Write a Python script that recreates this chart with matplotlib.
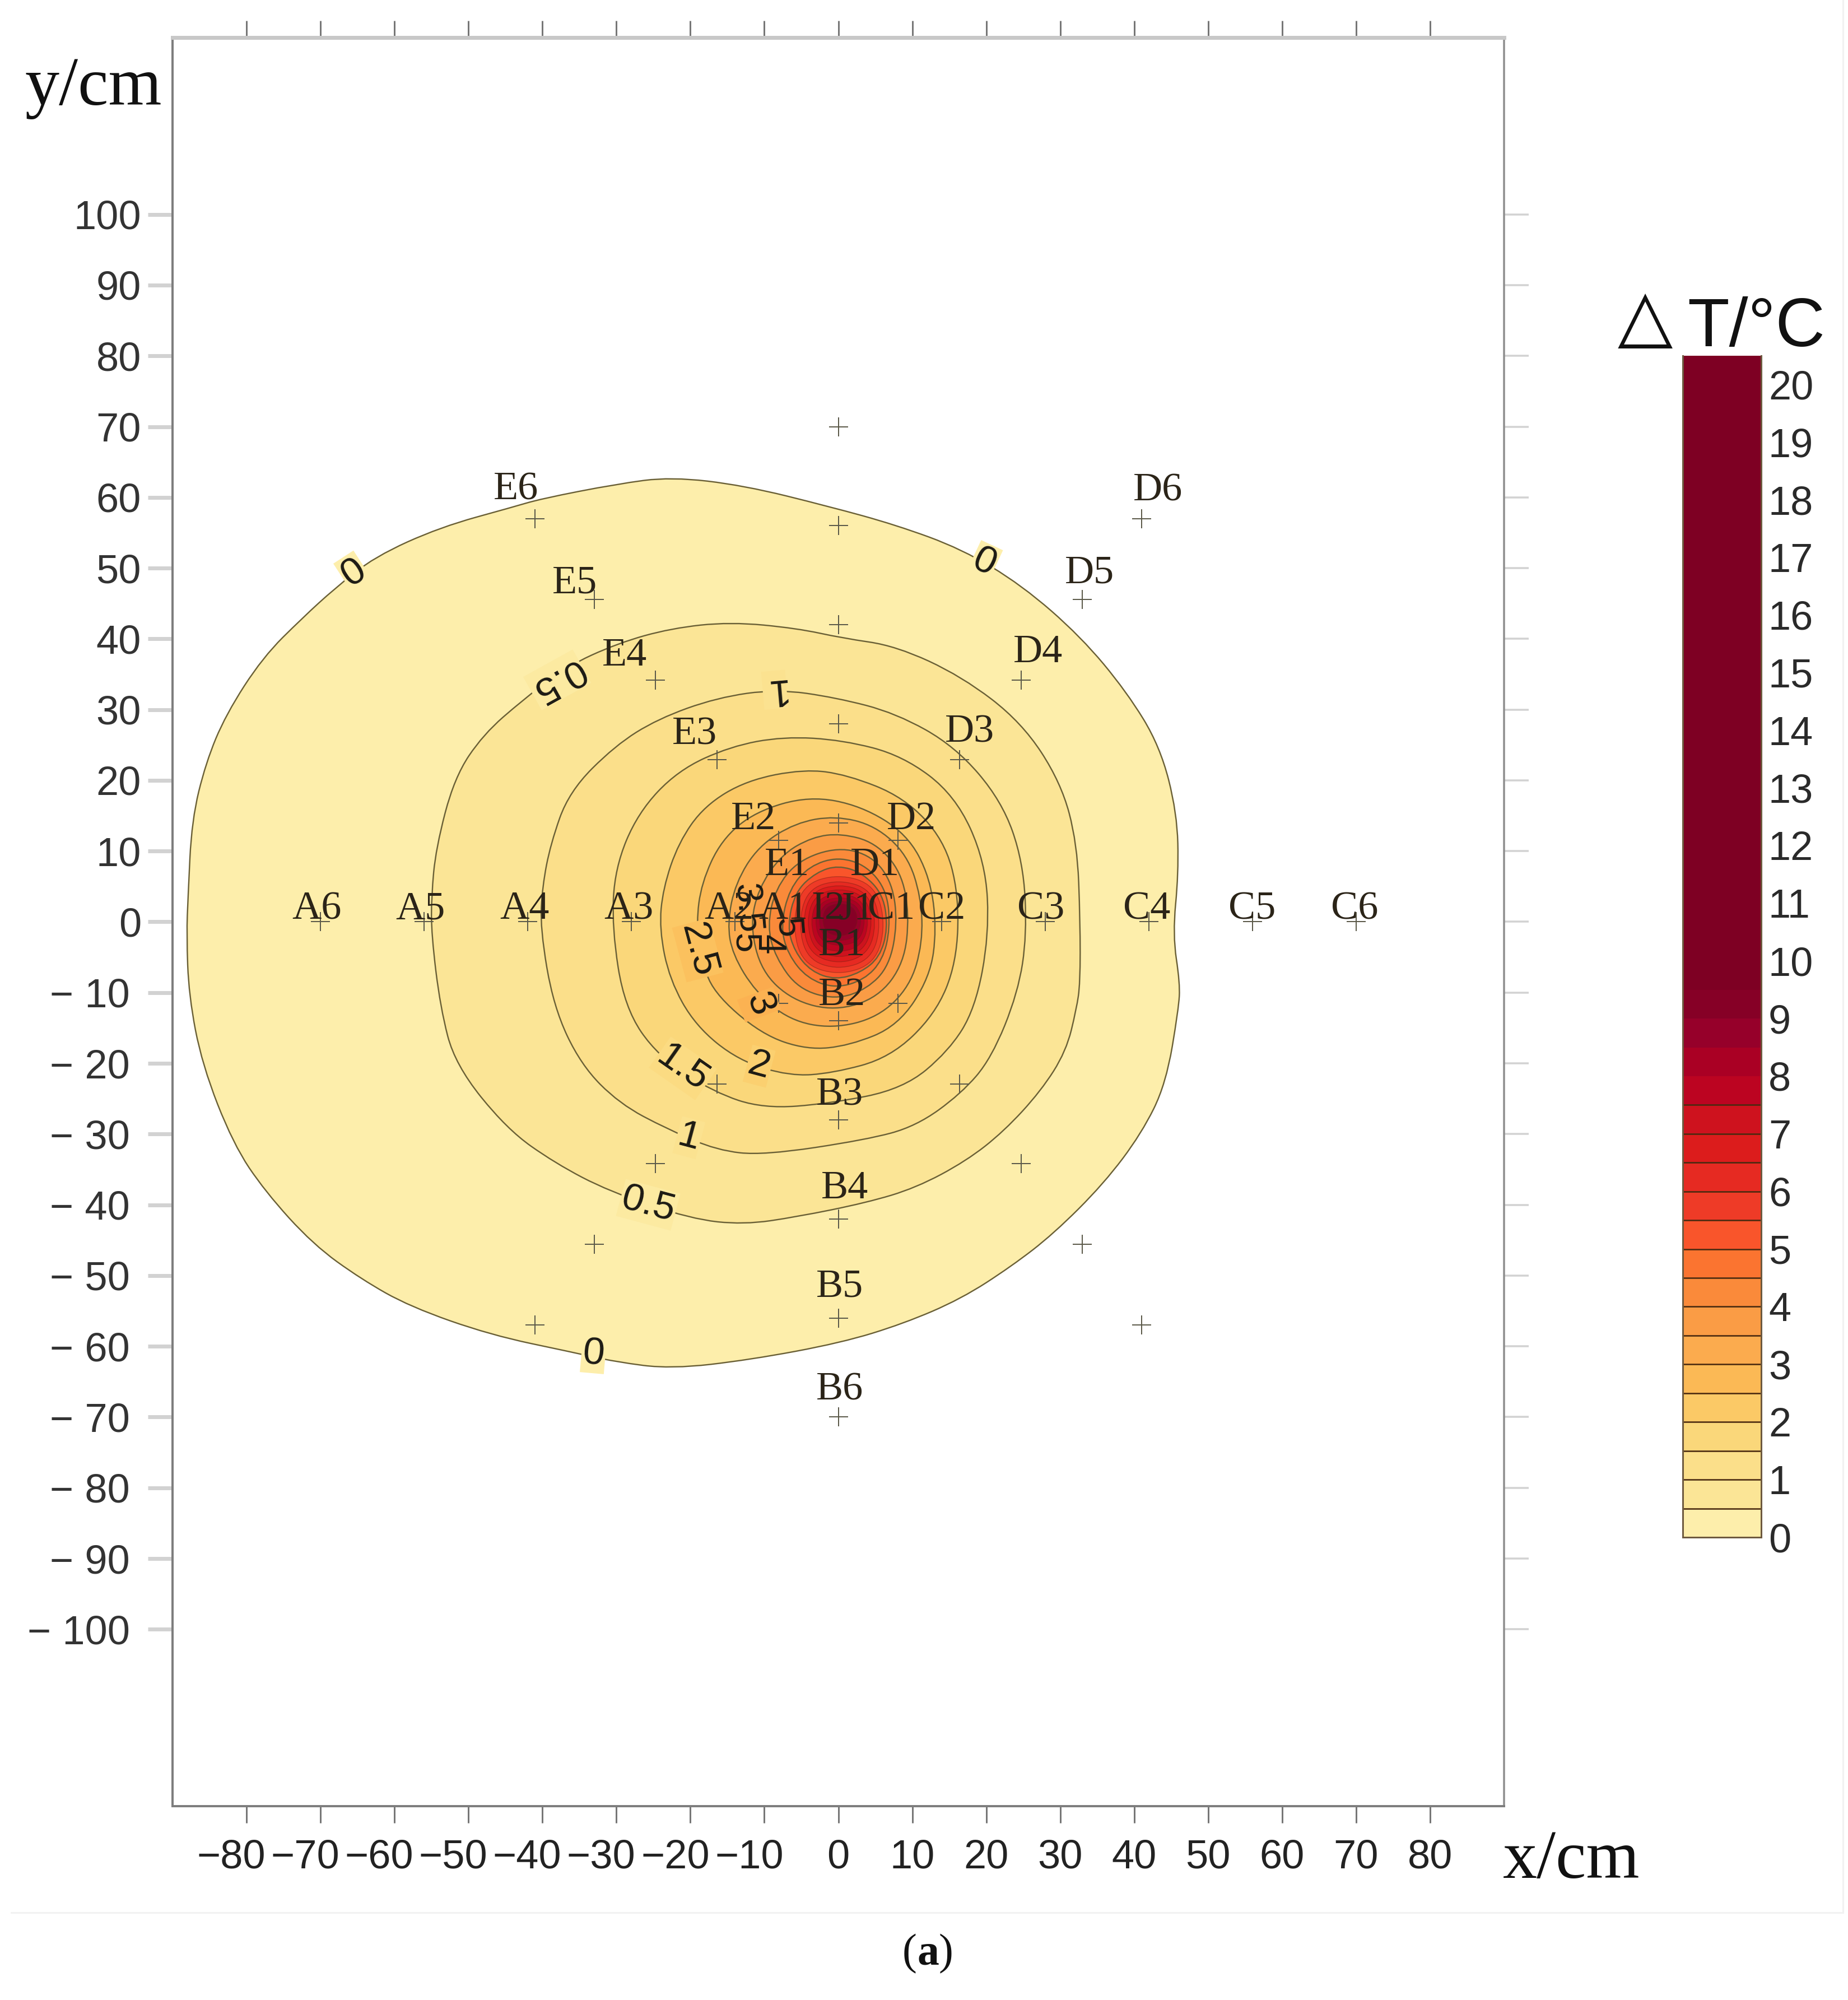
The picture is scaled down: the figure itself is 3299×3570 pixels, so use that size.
import matplotlib
matplotlib.use('Agg')
import matplotlib.pyplot as plt
import matplotlib.colors as mcolors
from matplotlib.path import Path
from matplotlib.patches import PathPatch
from matplotlib.lines import Line2D
from matplotlib.transforms import ScaledTranslation

W, H = 3299, 3570
SANS = 'Liberation Sans'
SERIF = 'Liberation Serif'

# contour outlines, (x, y) in cm
c0 = [(-88.1,-1.8),(-87.9,3.6),(-87.4,14.4),(-85.5,22.5),(-82.8,29.3),(-77.8,37.4),(-72.4,43),(-68.1,47.1),
      (-62.7,51.6),(-53.8,55.8),(-44.1,58.6),(-40.2,59.8),(-29.9,61.9),(-22.6,62.9),(-12.8,61.7),(-1.2,58.7),
      (7.8,56.1),(16.7,52.7),(24.8,47.6),(32.8,40.3),(39,32.5),(43.5,24.8),(45.8,15.4),(46,6.8),(45.2,-1.8),
      (46.2,-8.7),(46,-12.3),(44.3,-22.9),(41,-29.9),(35.9,-37),(29.1,-44.1),(23.4,-48.7),(16.6,-53.3),
      (8.8,-56.8),(0.4,-59.5),(-11.9,-61.9),(-22.6,-63.2),(-30.1,-62.2),(-36.1,-60.8),(-47,-58.4),(-57.9,-54.4),
      (-64.5,-50.5),(-71,-45.6),(-77.5,-38.1),(-81.8,-31.4),(-86,-20.2),(-87.8,-10.4)]
c05 = [(-55,-1.8),(-55,3.6),(-54.4,10.4),(-51.9,20.4),(-48,26.5),(-42.6,31.4),(-36.9,36),(-29.8,39.4),(-22.6,41.5),
       (-14.6,42.4),(-5.6,41.5),(0.6,40.1),(7.8,39),(16.7,34.7),(24.8,28.2),(30.1,19.7),(32.3,11.1),
       (32.7,0),(32.7,-8.7),(32.2,-12.3),(30.8,-18.3),(27.4,-23.9),(22.4,-29.6),(17.3,-33.8),(10.5,-37.6),
       (3.8,-39.7),(-5.6,-41.7),(-12.8,-42.8),(-19.9,-42),(-31,-38.1),(-38.3,-34.1),(-44.8,-29.3),(-51.8,-20.2),
       (-53.8,-12.1)]
c1 = [(-40.3,-0.9),(-40,5),(-38.9,11),(-36.4,18.4),(-30.2,24.9),(-24.4,28.7),(-16.4,31.7),(-8.3,32.9),(-0.3,31.7),
      (7.8,29.5),(15.8,24.8),(22.1,17.1),(25,8.5),(25.5,-1.8),(24.3,-10),(20.7,-19.3),(16.6,-24.3),(10.5,-28.9),
      (3.8,-30.8),(-10.1,-33),(-16.4,-32.3),(-23.1,-29.3),(-29.6,-25.7),(-34.8,-20.2),(-38.5,-12)]
c15 = [(-30.6,-0.9),(-30.2,7.6),(-27.1,15.4),(-21.7,21.4),(-14.6,24.8),(-7.4,26.2),(0.6,25.7),(8.7,23.5),
       (15.8,17.9),(19.9,8.5),(20.4,-1.8),(18.5,-12.3),(14.9,-18.3),(8.8,-23.6),(-1.2,-25.7),(-10.1,-26.4),
       (-16.8,-24.1),(-24.4,-19),(-28.9,-12.1)]
c2 = [(-24.2,-1),(-23.7,4.7),(-21.6,11.2),(-18.1,16.4),(-12.4,20),(-4.6,21.6),(1.2,20.8),(8.9,17.6),
      (14.3,11.6),(16.3,3.9),(16,-5.8),(13.1,-13.1),(7,-19.2),(-0.8,-21.4),(-6.6,-21.8),(-13.5,-19.6),
      (-19.3,-14.7),(-22.8,-8.2)]
c25 = [(-19.2,-0.2),(-18.5,5.5),(-15.8,11.6),(-11.2,15.6),(-3.9,17.8),(3.1,16.4),(9.3,12.4),(12.4,6.3),
       (13.3,-1),(12.4,-7.8),(8.1,-14.7),(1.5,-17.5),(-4.2,-18.1),(-10.4,-15.9),(-17,-9.9),(-18.5,-5)]
c3 = [(-15,-0.2),(-13.9,5.5),(-10.8,10.7),(-5.8,14),(-0.4,15),(5,13.6),(9.3,9.5),(11.2,3.5),(11.4,-3),
      (9.7,-9.1),(5.4,-13.5),(-0.8,-15.1),(-6.6,-13.9),(-11.2,-9.9),(-14.3,-4.6)]
c35 = [(-11.9,-0.6),(-10.8,4.7),(-7.7,9.5),(-3.5,12),(0.4,12.5),(5,11.2),(8.5,7.1),(9.6,1),(8.9,-5.8),
       (5.4,-10.7),(-0.4,-12.6),(-6.2,-11.1),(-10.4,-7)]
c4 = [(-9.6,-0.6),(-8.5,4.7),(-5.4,8.7),(0,10.6),(4.6,9.3),(7.3,5.5),(8,-0.2),(6.9,-6.2),(3.9,-9.5),
      (-0.4,-11),(-5.4,-9.5),(-8.5,-5)]
c45 = [(-7.8,-0.6),(-6.6,4.7),(-3.9,7.9),(0,9.2),(3.9,7.9),(6.6,4.3),(7,-1),(6,-5.4),(3.5,-8.2),
       (-0.4,-9.4),(-4.2,-8),(-6.8,-4.6)]
c5 = [(-6.9,-0.6),(-5.8,4.3),(-3,7),(0,8),(3.3,6.9),(6.1,3.8),(6.7,-1),(5.6,-5),(3,-7.2),(-0.4,-8.2),
      (-3.7,-7),(-5.9,-4.2)]
c55 = [(-6.2,-0.4),(-4.9,5.2),(0,6.8),(5.0,5.2),(6.4,-0.4),(5.0,-5.9),(0,-7.6),(-4.9,-5.9)]
c6 = [(-5.4,-0.4),(-4.2,4.6),(0,6),(4.5,4.6),(5.8,-0.4),(4.5,-5.3),(0,-6.8),(-4.2,-5.3)]
c65 = [(-4.9,-0.3),(-3.8,4.2),(0.1,5.4),(4,4.2),(5.2,-0.3),(4,-4.6),(0.1,-6),(-3.8,-4.6)]
c7 = [(-4.3,0),(-3.3,3.7),(0.1,4.8),(3.6,3.7),(4.7,0),(3.6,-4),(0.1,-5.2),(-3.3,-4)]
c75 = [(-3.8,0),(-2.9,3.2),(0.1,4.2),(3.2,3.2),(4.2,0),(3.2,-3.4),(0.1,-4.4),(-2.9,-3.4)]
c8 = [(-3.2,0.2),(-2.5,2.8),(0.2,3.6),(2.9,2.8),(3.7,0.2),(2.9,-2.7),(0.2,-3.5),(-2.5,-2.7)]
c85 = [(-2.7,0.3),(-2.1,2.4),(0.2,3.1),(2.5,2.4),(3.2,0.3),(2.5,-2.1),(0.2,-2.8),(-2.1,-2.1)]
c9 = [(-2.2,0.4),(-1.7,2.1),(0.2,2.7),(2.1,2.1),(2.7,0.4),(2.1,-1.5),(0.2,-2.1),(-1.7,-1.5)]

outlines = [c0, c05, c1, c15, c2, c25, c3, c35, c4, c45, c5, c55, c6, c65, c7, c75, c8, c85, c9]

# one colour per 0.5 band, 0 to 9, then the rest of the scale
band_colors = ['#FDEEAB', '#FBE596', '#FBDF8A', '#FAD77A', '#FBC966', '#FBB955', '#FBAB4E', '#FA9C45',
               '#FA8A3A', '#FB7430', '#F9552B', '#EE3B27', '#E62A22', '#DC1C1C', '#CE121E', '#BC0421',
               '#AA0024', '#96002A', '#860026', '#7E0023']
band_edges = [0, 0.5, 1, 1.5, 2, 2.5, 3, 3.5, 4, 4.5, 5, 5.5, 6, 6.5, 7, 7.5, 8, 8.5, 9, 9.5, 20.5]

# measuring points
point_x = [-70, -56, -42, -28, -14, 14, 28, 42, 56, 70,
           0, 0, 0, 0, 0, 0, 0, 0, 0, 0,
           41, 33, 24.7, 16.4, 8.1, -41, -33, -24.7, -16.4, -8.1,
           41, 33, 24.7, 16.4, 8.1, -41, -33, -24.7, -16.4, -8.1]
point_y = [0, 0, 0, 0, 0, 0, 0, 0, 0, 0,
           70, 56, 42, 28, 14, -14, -28, -42, -56, -70,
           57, 45.6, 34.2, 22.9, 11.5, 57, 45.6, 34.2, 22.9, 11.5,
           -57, -45.6, -34.2, -22.9, -11.5, -57, -45.6, -34.2, -22.9, -11.5]

# point names, centre of the text in cm
names = ['E6', 'E5', 'E4', 'E3', 'E2', 'E1', 'D1', 'D2', 'D3', 'D4', 'D5', 'D6',
         'A6', 'A5', 'A4', 'A3', 'A2', 'A1', 'I2', 'J1', 'C1', 'C2', 'C3', 'C4', 'C5', 'C6',
         'B1', 'B2', 'B3', 'B4', 'B5', 'B6']
name_x = [-43.6, -35.6, -28.9, -19.4, -11.5, -6.9, 5, 9.9, 17.8, 27, 34, 43.2,
          -70.5, -56.5, -42.4, -28.3, -14.8, -7.4, -1.4, 2.4, 7.2, 14, 27.4, 41.7, 55.9, 69.8,
          0.5, 0.5, 0.2, 0.9, 0.2, 0.2]
name_y = [61.1, 47.9, 37.6, 26.5, 14.5, 8, 8, 14.5, 26.8, 38.1, 49.3, 60.9,
          1.8, 1.8, 1.8, 1.8, 1.8, 1.8, 1.8, 1.8, 1.8, 1.8, 1.8, 1.8, 1.8, 1.8,
          -3.3, -10.4, -24.5, -37.7, -51.6, -66.2]

# contour labels, the ones with a background break their line
label_text = ['0', '0', '0', '0.5', '1', '0.5', '1', '1.5', '2', '3', '2.5']
label_x = [-65.5, 19.7, -33.1, -38, -8.6, -25.7, -20.2, -21, -10.7, -10.7, -19]
label_y = [49.3, 50.8, -61.1, 34.2, 32.8, -40, -30.5, -20.7, -20.4, -11.7, -4]
label_rot = [33, -25, -5, 209, 185, -15, -15, -35, -15, -70, -75]
label_band = [0, 0, 0, 1, 2, 1, 2, 3, 4, 6, 5]

# the labels crowded at the centre, no gap around them
crowded_text = ['3.5', '5', '4', '5']
crowded_x = [-12.4, -12.7, -9.3, -6.9]
crowded_y = [1.9, -3, -3.2, -0.8]
crowded_rot = [-85, -90, -90, -85]

x_ticks = list(range(-80, 81, 10))
y_ticks = list(range(-100, 101, 10))
cbar_ticks = list(range(0, 21))


def closed_curve(pts):
    # quadratic curve through the midpoints, the read points are the controls
    n = len(pts)
    mid = lambda a, b: ((a[0] + b[0]) / 2, (a[1] + b[1]) / 2)
    verts = [mid(pts[-1], pts[0])]
    codes = [Path.MOVETO]
    for i in range(n):
        verts += [pts[i], mid(pts[i], pts[(i + 1) % n])]
        codes += [Path.CURVE3, Path.CURVE3]
    return Path(verts, codes)


def between(i):
    # background of a label lying on the line between two bands
    if i == 0:
        return band_colors[0]
    a, b = mcolors.to_rgb(band_colors[i - 1]), mcolors.to_rgb(band_colors[i])
    return tuple((p + q) / 2 for p, q in zip(a, b))


def pt(px):
    return px * 72 / 100


fig = plt.figure(figsize=(W / 100, H / 100), dpi=100, facecolor='white')
ax = fig.add_axes([308 / W, 1 - 3224 / H, (2685 - 308) / W, (3224 - 67) / H])
ax.set_xlim(-90, 90)
ax.set_ylim(-125, 125)

for i, outline in enumerate(outlines):
    edge = '#6A6036' if i < 11 else (0.45, 0.12, 0.08, 0.45)
    lw = pt(2.4) if i < 11 else pt(1.4)
    ax.add_patch(PathPatch(closed_curve(outline), facecolor=band_colors[i], edgecolor=edge, lw=lw, zorder=2))

ax.plot(point_x, point_y, ls='none', marker='+', ms=pt(34), mew=pt(2), color='#5C5A4A', zorder=3)

for t, x, y, r, b in zip(label_text, label_x, label_y, label_rot, label_band):
    ax.text(x, y, t, rotation=r, rotation_mode='anchor', ha='center', va='center', fontsize=50,
            family=SANS, color='#1C1A14', zorder=4,
            bbox=dict(facecolor=between(b), edgecolor='none', pad=1.5))

for t, x, y, r in zip(crowded_text, crowded_x, crowded_y, crowded_rot):
    ax.text(x, y, t, rotation=r, rotation_mode='anchor', ha='center', va='center', fontsize=46,
            family=SANS, color='#1C1A14', zorder=4)

for t, x, y in zip(names, name_x, name_y):
    ax.text(x, y, t, ha='center', va='center', fontsize=52, family=SERIF, color='#2B2418', zorder=5)

ax.set_xticks(x_ticks)
ax.set_yticks(y_ticks)
ax.set_xticklabels([str(v).replace('-', '\u2212') for v in x_ticks], family=SANS, fontsize=52, color='#222222')
ax.set_yticklabels([str(v).replace('-', '\u2212 ') for v in y_ticks], family=SANS, fontsize=52, color='#333333')
ax.tick_params(axis='x', which='major', top=True, bottom=True, direction='out', length=pt(30), width=pt(3),
               color='#777777', pad=pt(28))
ax.tick_params(axis='y', which='major', left=True, right=True, direction='out', length=pt(44), width=pt(7),
               color='#D2D2D2', pad=pt(12))
for tick in ax.yaxis.get_major_ticks():
    tick.tick2line.set_markeredgewidth(pt(3.5))
    tick.tick2line.set_color('#BBBBBB')

# negative labels sit left of their ticks in the picture
for label, v in zip(ax.get_xticklabels(), x_ticks):
    if v < 0:
        label.set_transform(label.get_transform() + ScaledTranslation(-0.27, 0, fig.dpi_scale_trans))
for label, v in zip(ax.get_yticklabels(), y_ticks):
    if v < 0:
        label.set_transform(label.get_transform() + ScaledTranslation(-0.2, 0, fig.dpi_scale_trans))

for side, color, px in [('left', '#7E7E7E', 4), ('bottom', '#7E7E7E', 4), ('right', '#8E8E8E', 3.5), ('top', '#C8C8C8', 7)]:
    ax.spines[side].set_color(color)
    ax.spines[side].set_linewidth(pt(px))

# colour scale
cax = fig.add_axes([3004 / W, 1 - 2744 / H, 140 / W, (2744 - 635) / H])
cax.bar([0] * len(band_colors), [band_edges[i + 1] - band_edges[i] for i in range(len(band_colors))], width=1,
        bottom=band_edges[:-1], color=band_colors)
cax.hlines(band_edges[1:16], -0.5, 0.5, color='#4A2A10', lw=pt(2.6))
cax.set_xlim(-0.5, 0.5)
cax.set_ylim(0, 20.5)
cax.set_xticks([])
cax.yaxis.tick_right()
cax.set_yticks(cbar_ticks)
cax.set_yticklabels([str(v) for v in cbar_ticks], family=SANS, fontsize=52, color='#2A2A2A', ha='left')
cax.tick_params(axis='y', length=0, pad=pt(13))
for s in cax.spines.values():
    s.set_color('#6E5A40')
    s.set_linewidth(pt(3))
cax.spines['top'].set_visible(False)

# titles
fig.text(44 / W, 1 - 187 / H, 'y/cm', family=SERIF, fontsize=88, color='#111111', va='baseline', ha='left')
fig.text(2683 / W, 1 - 3352 / H, 'x/cm', family=SERIF, fontsize=88, color='#111111', va='baseline', ha='left')
fig.text(2888 / W, 1 - 606 / H, '\u25b3', family='DejaVu Sans', fontsize=92, weight='bold', color='#111111', va='baseline', ha='left')
fig.text(3012 / W, 1 - 618 / H, 'T/\u00b0C', family=SANS, fontsize=88, color='#111111', va='baseline', ha='left')

fig.text(1611 / W, 1 - 3506 / H, '(', family=SERIF, fontsize=56, color='#111111', va='baseline', ha='left')
fig.text(1637 / W, 1 - 3506 / H, 'a', family=SERIF, fontsize=56, weight='bold', color='#111111', va='baseline', ha='left')
fig.text(1676 / W, 1 - 3506 / H, ')', family=SERIF, fontsize=56, color='#111111', va='baseline', ha='left')

# faint frame of the scanned panel
fig.add_artist(Line2D([20 / W, 3290 / W], [1 - 3414 / H, 1 - 3414 / H], color='#F1F1F1', lw=pt(3)))
fig.add_artist(Line2D([3290 / W, 3290 / W], [1 - 3414 / H, 1], color='#F1F1F1', lw=pt(3)))

fig.savefig('out.png', dpi=100)
